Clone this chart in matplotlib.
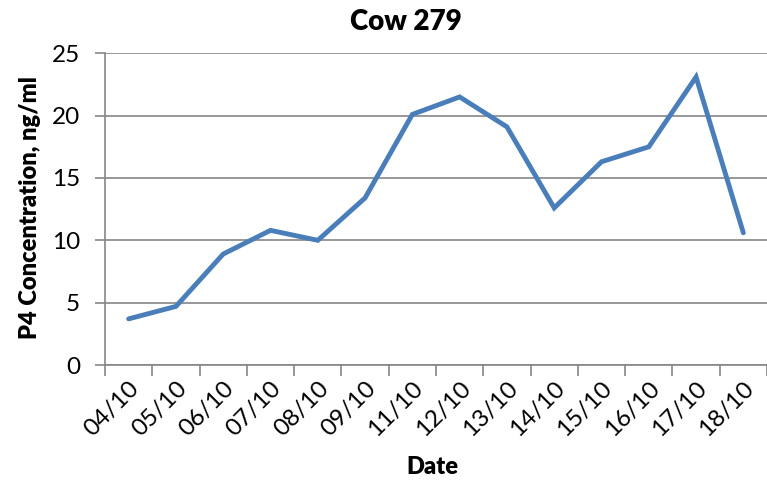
import matplotlib
matplotlib.use("Agg")
import matplotlib.pyplot as plt
import numpy as np

dates = ["04/10", "05/10", "06/10", "07/10", "08/10", "09/10", "11/10",
         "12/10", "13/10", "14/10", "15/10", "16/10", "17/10", "18/10"]
p4 = [3.7, 4.7, 8.9, 10.8, 10.0, 13.4, 20.1, 21.5, 19.1, 12.6, 16.3, 17.5, 23.1, 10.6]
yticks = [0, 5, 10, 15, 20, 25]

plt.rcParams['font.family'] = ['Lato', 'DejaVu Sans']

W, H = 767, 482
fig = plt.figure(figsize=(W / 100, H / 100), dpi=100)
ax = fig.add_axes([105 / W, 1 - 365 / H, (767 - 105) / W, (365 - 53.3) / H])

x = np.arange(len(dates))
ax.plot(x, p4, color='#4A7EBB', lw=3.5, solid_joinstyle='miter', solid_capstyle='round', zorder=3)

ax.set_xlim(-0.5, len(dates) - 0.5)
ax.set_ylim(0, 25)
ax.set_yticks(yticks)
ax.set_yticklabels([str(v) for v in yticks], fontsize=17.5)
ax.yaxis.grid(True, color='#868686', lw=1.2)
ax.set_axisbelow(True)

ax.set_xticks(np.arange(-0.5, len(dates), 1.0))
ax.set_xticklabels([])
ax.set_xticks(x, minor=True)
ax.set_xticklabels(dates, minor=True, rotation=45, ha='right', va='top',
                   rotation_mode='anchor', fontsize=17.5)
ax.tick_params(axis='x', which='major', length=8, width=1.2, color='#868686', direction='out')
ax.tick_params(axis='x', which='minor', length=0, pad=9)
ax.tick_params(axis='y', length=7, width=1.2, color='#868686', pad=11)

for s in ['top', 'right']:
    ax.spines[s].set_visible(False)
for s in ['left', 'bottom']:
    ax.spines[s].set_color('#868686')
    ax.spines[s].set_linewidth(1.2)

fig.text(406 / W, 1 - 22 / H, "Cow 279", ha='center', va='center', fontsize=20, fontweight='heavy')
fig.text(30 / W, 1 - 208 / H, "P4 Concentration, ng/ml", ha='center', va='center',
         rotation=90, fontsize=17, fontweight='heavy')
fig.text(432 / W, 1 - 467 / H, "Date", ha='center', va='center', fontsize=17, fontweight='heavy')

fig.savefig("out.png", dpi=100)
